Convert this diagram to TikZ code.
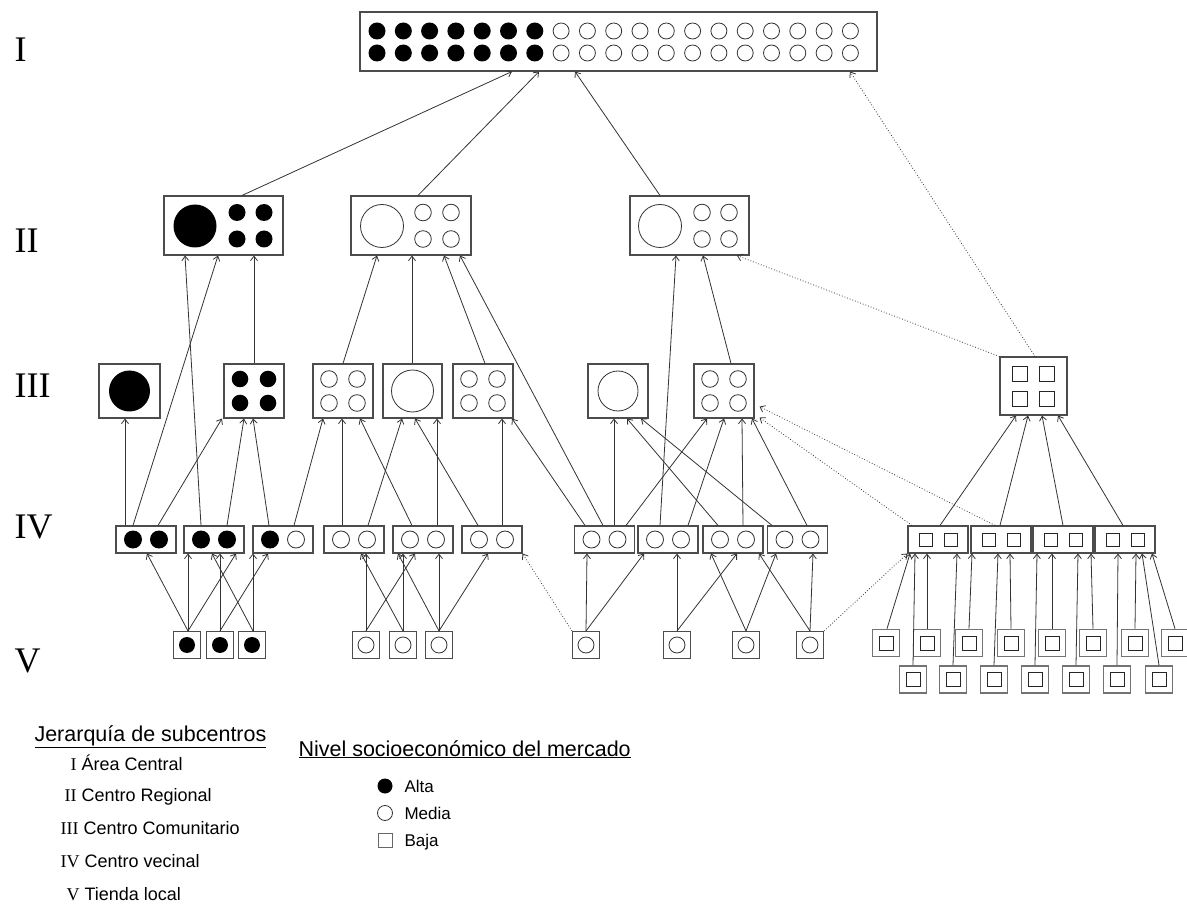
\documentclass[tikz,border=0pt]{standalone}
\usepackage{fontspec}
\setmainfont{Liberation Sans}
\newfontfamily\tnr{Liberation Serif}
\usetikzlibrary{arrows.meta}
\newcommand\mkbox[5]{\node[box,minimum width=#4pt,minimum height=#5pt] (#1) at (#2,#3) {};}
\newcommand\con[5][arr]{\draw[#1] (#2.north -| #3,0) -- (#4.south -| #5,0);}
\newcommand\fourc[3]{\foreach \dx in {-14,14}{\foreach \dy in {-12,12}{\path[#3] ({#1+\dx},{#2+\dy}) circle[radius=8.3pt];}}}
\begin{document}
\begin{tikzpicture}[x=1pt,y=-1pt,
  box/.style={draw=black!70,line width=1.1pt,rectangle,inner sep=0pt,fill=white},
  fc/.style={fill=black},
  oc/.style={draw=black!80,line width=0.8pt},
  sqs/.style={draw=black!85,line width=0.9pt},
  arr/.style={draw=black!80,line width=0.8pt,-{Straight Barb[length=4.5pt,width=7pt]}},
  dotarr/.style={arr,dotted},
  lvl/.style={anchor=base west,font=\tnr\fontsize{36}{40}\selectfont},
  leg/.style={anchor=base west,font=\fontsize{18}{21}\selectfont},
  legs/.style={anchor=base west,font=\fontsize{17}{20}\selectfont},
  legt/.style={anchor=base west,font=\fontsize{21.5}{25}\selectfont}]
\path[use as bounding box,fill=white] (0,0) rectangle (1187,909);

% ---------- boxes ----------
\mkbox{I}{618.5}{41.5}{517}{59}
\mkbox{IIa}{223.5}{225.5}{119}{59}
\mkbox{IIb}{411}{225.5}{120}{59}
\mkbox{IIc}{689.5}{225.5}{119}{59}
\mkbox{IIIa}{129.5}{391}{61}{54}
\mkbox{IIIb}{254}{391}{60}{54}
\mkbox{IIIc}{343}{391}{60}{54}
\mkbox{IIId}{412.5}{391}{59}{54}
\mkbox{IIIe}{483}{391}{60}{54}
\mkbox{IIIf}{618}{391}{60}{54}
\mkbox{IIIg}{724}{391}{60}{54}
\mkbox{IIIh}{1033.5}{386}{67}{58}
\foreach \n/\x in {IVa/146,IVb/214,IVc/283,IVd/354,IVe/423,IVf/492,IVg/604.5,IVh/668,IVi/733,IVj/797.5,IVk/938,IVl/1001,IVm/1063,IVn/1125}
  {\mkbox{\n}{\x}{539.5}{60}{27}}
\foreach \n/\x in {Va/187,Vb/220,Vc/252,Vd/366,Ve/403,Vf/439,Vg/586,Vh/677,Vi/746,Vj/810}
  {\mkbox{\n}{\x}{645}{27}{27}}
\foreach \n/\x in {Sa1/886,Sa2/927,Sa3/969,Sa4/1011,Sa5/1052,Sa6/1093,Sa7/1135,Sa8/1175}
  {\node[box,line width=1.6pt,draw=black!55,minimum width=27pt,minimum height=27pt] (\n) at (\x,643) {};
   \draw[sqs] ({\x-7},636) rectangle ({\x+7},650);}
\foreach \n/\x in {Sb1/913,Sb2/953,Sb3/994,Sb4/1035,Sb5/1076,Sb6/1117,Sb7/1159}
  {\node[box,line width=1.6pt,draw=black!55,minimum width=27pt,minimum height=27pt] (\n) at (\x,679.5) {};
   \draw[sqs] ({\x-7},672.5) rectangle ({\x+7},686.5);}

% ---------- contents ----------
\foreach \i in {0,...,6}{\fill ({377+26.3*\i},31) circle[radius=8.5pt]; \fill ({377+26.3*\i},53) circle[radius=8.5pt];}
\foreach \i in {7,...,18}{\draw[oc] ({377+26.3*\i},31) circle[radius=8pt]; \draw[oc] ({377+26.3*\i},53) circle[radius=8pt];}
\fill (195,226) circle[radius=21.5pt];
\foreach \x in {237,264}{\foreach \y in {212.5,239}{\fill (\x,\y) circle[radius=8.5pt];}}
\draw[oc] (382,226) circle[radius=21.5pt];
\foreach \x in {423,451}{\foreach \y in {212.5,239}{\draw[oc] (\x,\y) circle[radius=8.3pt];}}
\draw[oc] (660,226) circle[radius=21.5pt];
\foreach \x in {702,729}{\foreach \y in {212.5,239}{\draw[oc] (\x,\y) circle[radius=8.3pt];}}
\fill (129.5,391) circle[radius=20.5pt];
\fourc{254}{391}{fc}
\fourc{343}{391}{oc}
\draw[oc] (412.5,391) circle[radius=21pt];
\fourc{483}{391}{oc}
\draw[oc] (618,391) circle[radius=20pt];
\fourc{724}{391}{oc}
\foreach \dx in {-13.5,13.5}{\foreach \dy in {-12.5,12.5}{\draw[sqs] ({1033.5+\dx-7.5},{386+\dy-7.5}) rectangle ({1033.5+\dx+7.5},{386+\dy+7.5});}}
\foreach \x in {133,159,201,227,270}{\fill (\x,539.5) circle[radius=9pt];}
\foreach \x in {296,341,367,410,436,479,505,591.5,617.5,655,681,720,746,784.5,810.5}{\draw[oc] (\x,539.5) circle[radius=8.5pt];}
\foreach \x in {938,1001,1063,1125}{\foreach \dx in {-12.5,12.5}{\draw[sqs] ({\x+\dx-6.5},533) rectangle ({\x+\dx+6.5},546);}}
\foreach \x in {187,220,252}{\fill (\x,645) circle[radius=8pt];}
\foreach \x in {366,403,439,586,677,746,810}{\draw[oc] (\x,645) circle[radius=8pt];}

% ---------- connectors ----------
\con{IIa}{242}{I}{512}
\con{IIb}{418}{I}{539}
\con{IIc}{660}{I}{575}
\con[dotarr]{IIIh}{1035}{I}{850}
\con{IVb}{201}{IIa}{185}
\con{IVa}{133}{IIa}{218}
\con{IIIb}{254}{IIa}{254}
\con{IIIc}{343}{IIb}{377}
\con{IIId}{412}{IIb}{412}
\con{IIIe}{485}{IIb}{444}
\con{IVg}{603}{IIb}{460}
\con{IVh}{660}{IIc}{676}
\con{IIIg}{731}{IIc}{703}
\draw[dotarr] (IIIh.north west) -- (IIc.south -| 737,0);
\con{IVa}{125}{IIIa}{125}
\con{IVa}{158}{IIIb}{222}
\con{IVb}{227}{IIIb}{244}
\con{IVc}{269}{IIIb}{253}
\con{IVc}{294}{IIIc}{323}
\con{IVd}{342}{IIIc}{342}
\con{IVe}{412}{IIIc}{360}
\con{IVd}{368}{IIId}{402}
\con{IVf}{478}{IIId}{415}
\con{IVe}{437}{IIId}{437}
\con{IVf}{502}{IIIe}{502}
\con{IVg}{585}{IIIe}{512}
\con{IVg}{614}{IIIf}{614}
\con{IVi}{718}{IIIf}{627}
\con{IVj}{772}{IIIf}{641}
\con{IVg}{626}{IIIg}{707}
\con{IVh}{688}{IIIg}{724}
\con{IVi}{743}{IIIg}{742}
\con{IVj}{807}{IIIg}{752}
\draw[dotarr] (IVk.north -| 912,0) -- ([shift={(5,-1)}]IIIg.south east);
\draw[dotarr] (IVl.north -| 995,0) -- ([shift={(5,-12)}]IIIg.south east);
\con{IVk}{940}{IIIh}{1016}
\con{IVl}{1000}{IIIh}{1028}
\con{IVm}{1063}{IIIh}{1042}
\con{IVn}{1123}{IIIh}{1058}
\con{Va}{188}{IVa}{147}
\con{Va}{188}{IVb}{188}
\con{Va}{188}{IVb}{236}
\con{Vb}{220}{IVb}{220}
\con{Vb}{220}{IVc}{268}
\con{Vc}{253}{IVc}{253}
\con{Vc}{253}{IVb}{212}
\con{Vd}{366}{IVd}{366}
\con{Vd}{366}{IVe}{415}
\con{Ve}{403}{IVe}{403}
\con{Ve}{403}{IVd}{361}
\con{Vf}{439}{IVe}{439}
\con{Vf}{439}{IVe}{398}
\con{Vf}{439}{IVf}{488}
\con{Vg}{586}{IVg}{587}
\con{Vg}{586}{IVh}{644}
\draw[dotarr] (Vg.north west) -- (IVf.south east);
\con{Vh}{677}{IVh}{677}
\con{Vh}{677}{IVi}{737}
\con{Vi}{746}{IVi}{711}
\con{Vi}{746}{IVj}{776}
\con{Vj}{810}{IVi}{759}
\con{Vj}{810}{IVj}{813}
\draw[dotarr] (Vj.north east) -- (IVk.south west);
\con{Sa1}{887}{IVk}{910}
\con{Sb1}{913}{IVk}{915}
\con{Sa2}{927}{IVk}{927}
\con{Sb2}{953}{IVk}{957}
\con{Sa3}{969}{IVl}{972}
\con{Sb3}{994}{IVl}{998}
\con{Sa4}{1011}{IVl}{1010}
\con{Sb4}{1035}{IVm}{1037}
\con{Sa5}{1052}{IVm}{1052}
\con{Sb5}{1076}{IVm}{1078}
\con{Sa6}{1093}{IVm}{1091}
\con{Sb6}{1117}{IVn}{1118}
\con{Sa7}{1135}{IVn}{1136}
\con{Sb7}{1159}{IVn}{1142}
\con{Sa8}{1175}{IVn}{1152}

% ---------- level labels ----------
\node[lvl] (LI) at (11,62) {I};
\node[lvl] (LII) at (11,253) {II};
\node[lvl] (LIII) at (11,398) {III};
\node[lvl] (LIV) at (11,538) {IV};
\node[lvl] (LV) at (11,672) {V};

% ---------- legend ----------
\node[legt] (lgA) at (31,741) {\underline{Jerarquía de subcentros}};
\node[leg] (lg1) at (67,770) {{\tnr I} Área Central};
\node[leg] (lg2) at (61,801) {{\tnr II} Centro Regional};
\node[leg] (lg3) at (57,834) {{\tnr III} Centro Comunitario};
\node[leg] (lg4) at (57,867) {{\tnr IV} Centro vecinal};
\node[leg] (lg5) at (63,900) {{\tnr V} Tienda local};
\node[legt] (lgB) at (295,756) {\underline{Nivel socioeconómico del mercado}};
\fill (385,786) circle[radius=7.5pt];
\draw[oc] (385,813) circle[radius=7.5pt];
\draw[draw=black!60,line width=0.8pt] (378,833) rectangle (392,847);
\node[legs] (lgAlta) at (401,792) {Alta};
\node[legs] (lgMedia) at (401,819) {Media};
\node[legs] (lgBaja) at (401,846) {Baja};
\end{tikzpicture}
\end{document}
